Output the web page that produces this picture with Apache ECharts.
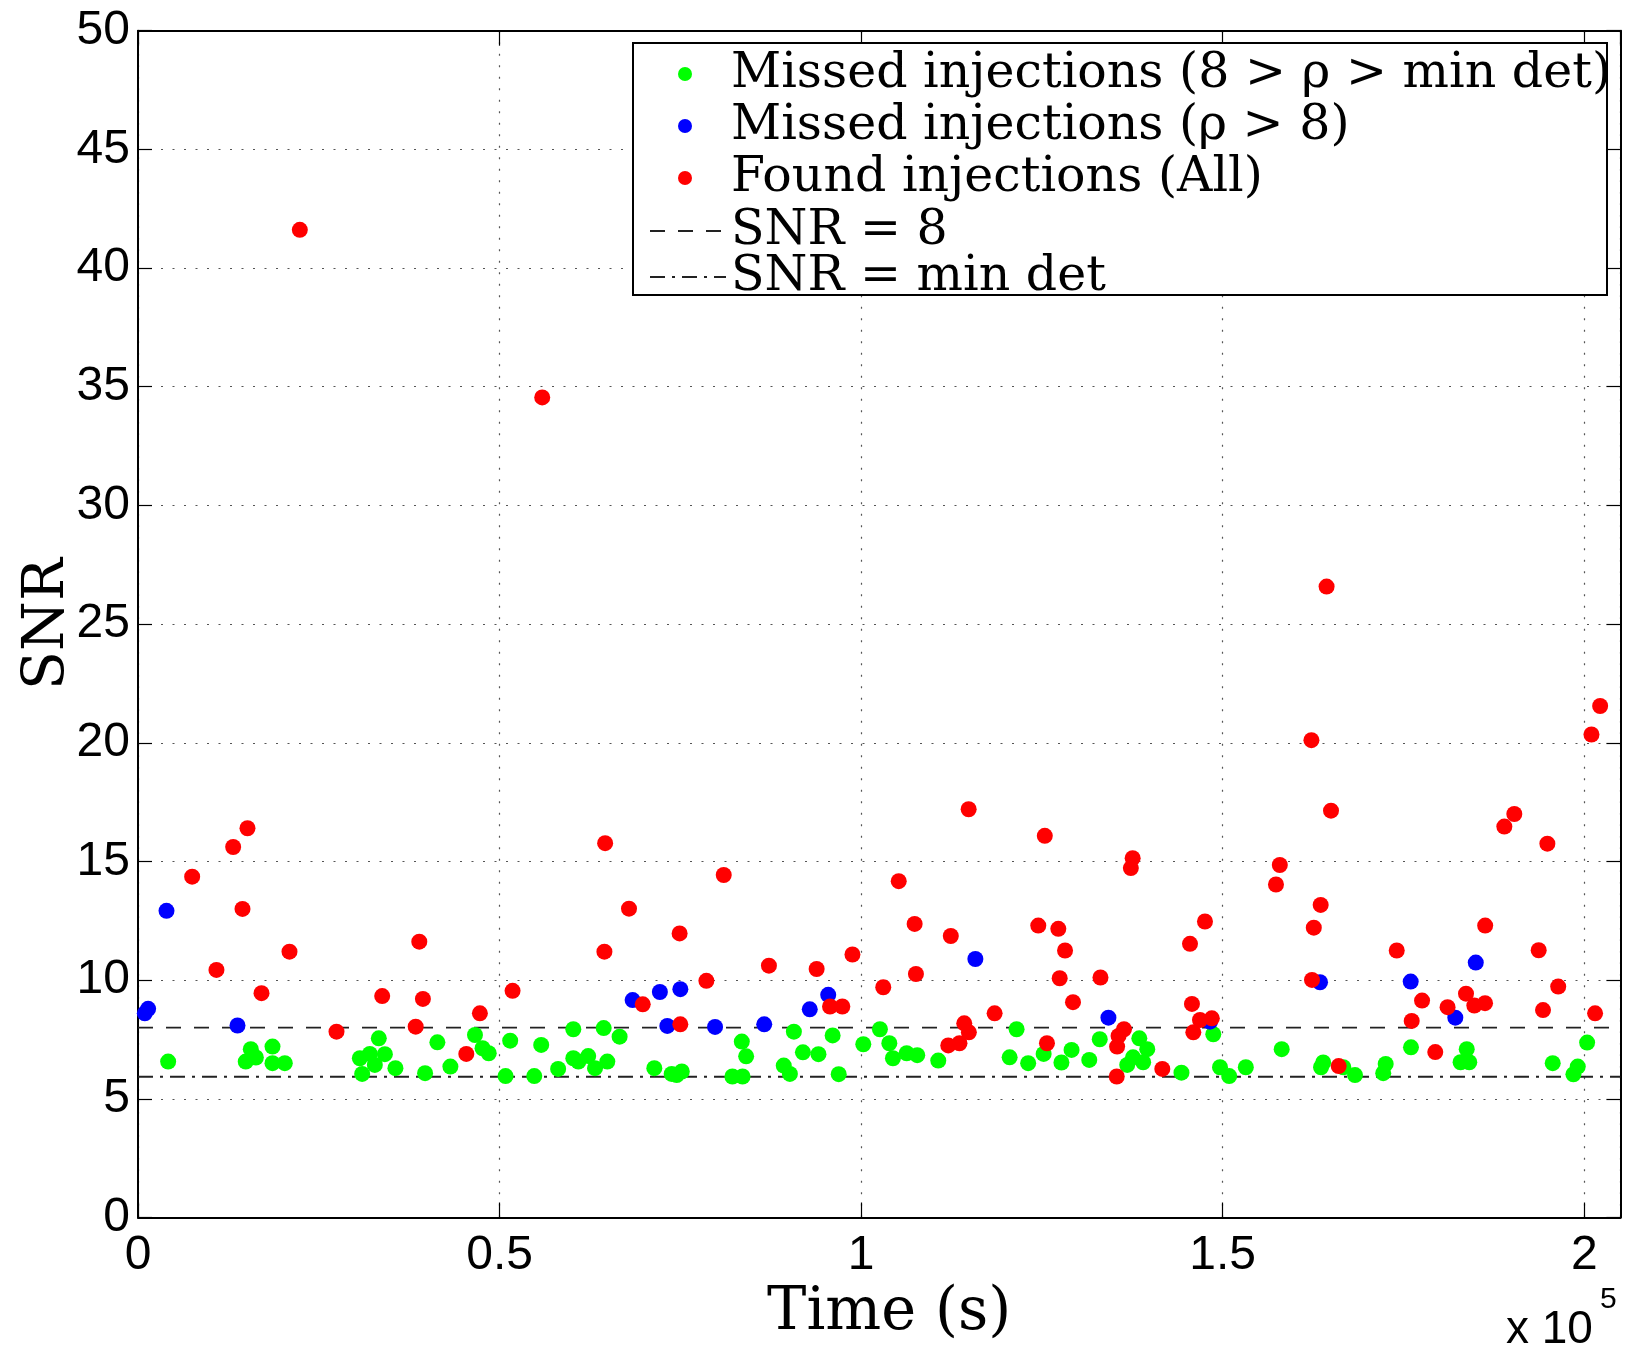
<!DOCTYPE html>
<html>
<head>
<meta charset="utf-8">
<script src="https://cdn.jsdelivr.net/npm/echarts@6/dist/echarts.min.js"></script>
<style>
html,body{margin:0;padding:0;background:#fff;}
#chart{width:1629px;height:1363px;}
</style>
</head>
<body>
<div id="chart"></div>
<script>
// ---- data (time in seconds, SNR) ----
const xExtent = [0, 205000];
const xTickStep = 50000;
const yExtent = [0, 50];
const yTickStep = 5;
const snrThreshold = 8;
const minDetThreshold = 5.93;

const seriesNames = [
  'Missed injections (8 > ρ > min det)',
  'Missed injections (ρ > 8)',
  'Found injections (All)',
  'SNR = 8',
  'SNR = min det'
];

const missedLow = [
  [4170,6.57],[15600,7.09],[16300,6.74],[14900,6.57],[18600,7.2],[18600,6.5],[20300,6.5],
  [30680,6.71],[32060,6.89],[32750,6.43],[31000,6.05],[33300,7.55],[34140,6.88],[35600,6.29],
  [41400,7.38],[39700,6.08],[43200,6.36],[46600,7.69],[47650,7.13],[48500,6.92],[51470,7.45],
  [50830,5.96],[55760,7.27],[54800,5.96],[58100,6.26],[60200,7.93],[60200,6.71],[60900,6.57],
  [62260,6.8],[63200,6.29],[64900,6.57],[64400,7.98],[66600,7.62],[71400,6.29],[73800,6.05],
  [74500,6.0],[75200,6.15],[83500,7.41],[84100,6.79],[82200,5.94],[83600,5.94],[89300,6.40],
  [90150,6.05],[90700,7.83],[91950,6.96],[94100,6.88],[96060,7.67],[96900,6.04],[100300,7.3],
  [102600,7.93],[103900,7.34],[104400,6.71],[106300,6.92],[107760,6.84],[110670,6.61],
  [121500,7.93],[120540,6.75],[123100,6.5],[125240,6.89],[127700,6.53],[129100,7.06],
  [131550,6.64],[133000,7.51],[138470,7.55],[139570,7.09],[137600,6.75],[136800,6.43],
  [139000,6.54],[144300,6.1],[148700,7.72],[149630,6.33],[150900,5.96],[153200,6.33],
  [158160,7.09],[163900,6.53],[163600,6.33],[166680,6.33],[168300,6.0],[172540,6.47],
  [172200,6.08],[176040,7.17],[183750,7.09],[182900,6.54],[184100,6.54],[195640,6.5],
  [199100,6.36],[198500,6.03],[200400,7.37]
];

const missedHigh = [
  [940,8.60],[1400,8.79],[3940,12.92],[13760,8.09],[68400,9.16],[72170,9.5],[75000,9.62],
  [73200,8.07],[79800,8.03],[86600,8.14],[92900,8.77],[95450,9.38],[115800,10.89],
  [134200,8.42],[148240,8.25],[163460,9.91],[176000,9.94],[182170,8.42],[185000,10.74]
];

const found = [
  [7490,14.36],[10850,10.43],[13160,15.61],[15140,16.4],[14450,13.0],[17080,9.45],[20950,11.2],
  [22380,41.61],[27450,7.83],[33770,9.33],[38900,11.62],[39400,9.21],[38400,8.04],[45400,6.89],
  [47280,8.6],[51800,9.55],[55900,34.55],[64600,15.77],[64500,11.2],[67900,13.01],[69800,8.98],
  [74900,11.97],[75000,8.14],[78600,9.97],[81000,14.43],[87250,10.61],[93850,10.47],[95700,8.89],
  [97400,8.89],[98800,11.08],[103060,9.7],[105200,14.17],[107400,12.37],[107580,10.26],
  [112400,11.86],[112050,7.25],[113600,7.34],[114260,8.18],[114900,7.8],[114870,17.2],
  [118460,8.6],[124500,12.3],[125400,16.08],[125700,7.34],[127270,12.16],[128200,11.25],
  [127460,10.08],[129300,9.07],[133100,10.11],[136350,7.93],[135600,7.65],[135400,7.2],
  [135350,5.94],[137550,15.14],[137300,14.72],[141650,6.26],[145480,11.53],[147550,12.47],
  [145750,9.0],[146860,8.32],[148500,8.39],[145940,7.8],[157370,14.03],[157900,14.85],
  [162270,20.11],[164370,26.58],[163550,13.17],[162600,12.21],[164980,17.14],[162350,10.01],
  [166040,6.38],[174070,11.25],[177570,9.14],[176140,8.28],[179400,6.97],[181100,8.86],
  [183650,9.43],[184800,8.93],[186280,9.03],[186300,12.3],[188950,16.47],[190330,17.0],
  [194900,15.75],[193700,11.26],[196400,9.73],[194300,8.74],[201500,8.6],[202200,21.55],
  [201000,20.35]
];

// ---- chart ----
const chart = echarts.init(document.getElementById('chart'), null, {renderer: 'canvas'});

const sans = 'Liberation Sans';
const serif = 'DejaVu Serif';
const gridDots = {type: [2, 9.5], color: '#555', width: 1.2};

function hLine(y) { return [[xExtent[0], y], [xExtent[1], y]]; }

const option = {
  animation: false,
  backgroundColor: '#fff',
  grid: {left: 138, right: 8.6, top: 30.7, bottom: 145.5, outerBoundsMode: 'none', containLabel: false},
  xAxis: [{
    type: 'value', min: xExtent[0], max: xExtent[1], interval: xTickStep, position: 'bottom',
    name: 'Time (s)', nameLocation: 'middle', nameGap: 52,
    nameTextStyle: {fontFamily: serif, fontSize: 59, color: '#000', padding: [0, 0, 0, 20]},
    axisLine: {show: true, onZero: false, lineStyle: {color: '#000', width: 2}},
    axisTick: {show: true, inside: true, length: 15, lineStyle: {color: '#000', width: 1.2}},
    axisLabel: {
      show: true, margin: 14, fontFamily: sans, fontSize: 48, color: '#000',
      showMaxLabel: false,
      formatter: v => (v % xTickStep === 0 ? String(v / 1e5) : '')
    },
    splitLine: {show: true, lineStyle: gridDots}
  }, {
    type: 'value', min: xExtent[0], max: xExtent[1], interval: xTickStep, position: 'top',
    axisLine: {show: true, onZero: false, lineStyle: {color: '#000', width: 2}},
    axisTick: {show: true, inside: true, length: 15, lineStyle: {color: '#000', width: 1.2}},
    axisLabel: {show: false}, splitLine: {show: false}
  }],
  yAxis: [{
    type: 'value', min: yExtent[0], max: yExtent[1], interval: yTickStep, position: 'left',
    name: 'SNR', nameLocation: 'middle', nameGap: 61, nameRotate: 90, nameMoveOverlap: false,
    nameTextStyle: {fontFamily: serif, fontSize: 57, color: '#000'},
    axisLine: {show: true, onZero: false, lineStyle: {color: '#000', width: 2}},
    axisTick: {show: true, inside: true, length: 14, lineStyle: {color: '#000', width: 1.2}},
    axisLabel: {show: true, margin: 8, fontFamily: sans, fontSize: 48, color: '#000'},
    splitLine: {show: true, lineStyle: gridDots}
  }, {
    type: 'value', min: yExtent[0], max: yExtent[1], interval: yTickStep, position: 'right',
    axisLine: {show: true, onZero: false, lineStyle: {color: '#000', width: 2}},
    axisTick: {show: true, inside: true, length: 14, lineStyle: {color: '#000', width: 1.2}},
    axisLabel: {show: false}, splitLine: {show: false}
  }],
  legend: [{
    data: seriesNames.slice(0, 3),
    orient: 'vertical', left: 678, top: 49.5, padding: 0, itemGap: 3,
    itemWidth: 14, itemHeight: 14, icon: 'circle', selectedMode: false, z: 10,
    textStyle: {fontFamily: serif, fontSize: 49, lineHeight: 49, color: '#000', padding: [0, 0, 0, 34]}
  }, {
    data: seriesNames.slice(3),
    orient: 'vertical', left: 649, top: 206.5, padding: 0, itemGap: -3,
    itemWidth: 76, itemHeight: 1, selectedMode: false, z: 10,
    itemStyle: {opacity: 0},
    textStyle: {fontFamily: serif, fontSize: 49, lineHeight: 49, color: '#000'}
  }],
  graphic: [{
    type: 'rect', z: 8, silent: true,
    shape: {x: 633, y: 43, width: 974, height: 252},
    style: {fill: '#fff', stroke: '#000', lineWidth: 2}
  }, {
    type: 'text', z: 10, silent: true, x: 1506, y: 1330,
    style: {text: 'x 10', font: '46px "Liberation Sans"', fill: '#000', verticalAlign: 'middle', align: 'left'}
  }, {
    type: 'text', z: 10, silent: true, x: 1600, y: 1300,
    style: {text: '5', font: '30px "Liberation Sans"', fill: '#000', verticalAlign: 'middle', align: 'left'}
  }],
  series: [{
    name: seriesNames[3], type: 'line', data: hLine(snrThreshold), symbol: 'none', silent: true, z: 3,
    lineStyle: {color: '#222', width: 1.8, type: [15, 13]}, itemStyle: {color: '#222'}
  }, {
    name: seriesNames[4], type: 'line', data: hLine(minDetThreshold), symbol: 'none', silent: true, z: 3,
    lineStyle: {color: '#222', width: 1.8, type: [15, 7, 3, 7]}, itemStyle: {color: '#222'}
  }, {
    name: seriesNames[0], type: 'scatter', data: missedLow, symbol: 'circle', symbolSize: 16, z: 4,
    silent: true, itemStyle: {color: '#00ff00', opacity: 1}
  }, {
    name: seriesNames[1], type: 'scatter', data: missedHigh, symbol: 'circle', symbolSize: 16, z: 5,
    silent: true, itemStyle: {color: '#0000ff', opacity: 1}
  }, {
    name: seriesNames[2], type: 'scatter', data: found, symbol: 'circle', symbolSize: 16, z: 6,
    silent: true, itemStyle: {color: '#ff0000', opacity: 1}
  }]
};

chart.setOption(option);
</script>
</body>
</html>
